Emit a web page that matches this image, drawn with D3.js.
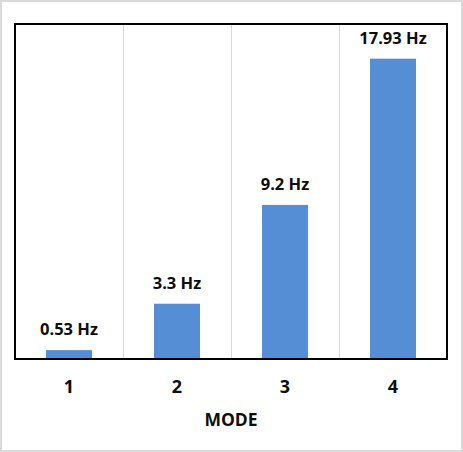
<!DOCTYPE html>
<html><head><meta charset="utf-8">
<script src="https://cdn.jsdelivr.net/npm/d3@7"></script>
<style>html,body{margin:0;padding:0;background:#fff;overflow:hidden}</style>
</head><body>
<script>
const categories = ["1","2","3","4"];
const values = [0.53, 3.3, 9.2, 17.93];
const labels = ["0.53 Hz","3.3 Hz","9.2 Hz","17.93 Hz"];
const axisTitle = "MODE";

const W = 463, H = 452;
const svg = d3.select("body").append("svg").attr("width", W).attr("height", H);
svg.append("rect").attr("x",1).attr("y",1).attr("width",W-2).attr("height",H-2)
  .attr("fill","#fff").attr("stroke","#d9d9d9").attr("stroke-width",2);

const L = 15, R = 447, T = 24, B = 359;
const x = d3.scaleBand().domain(categories).range([L, R]).paddingInner(0.574).paddingOuter(0.287);
const xb = d3.scaleBand().domain(categories).range([L, R]);
const y = d3.scaleLinear().domain([0, 20]).range([B, T]);

// gridlines at category boundaries
svg.selectAll("line.grid").data(categories.slice(1)).enter().append("line")
  .attr("class","grid")
  .attr("x1", d => Math.round(xb(d)) + 0.5).attr("x2", d => Math.round(xb(d)) + 0.5)
  .attr("y1", T).attr("y2", B).attr("stroke","#d9d9d9").attr("stroke-width",1);

svg.selectAll("rect.bar").data(values).enter().append("rect")
  .attr("class","bar")
  .attr("x", (d,i) => x(categories[i])).attr("width", x.bandwidth())
  .attr("y", d => y(d)).attr("height", d => B - y(d))
  .attr("fill", "#558ed5");

svg.append("rect").attr("x", L).attr("y", T).attr("width", R-L).attr("height", B-T)
  .attr("fill","none").attr("stroke","#000").attr("stroke-width",2);

svg.selectAll("text.lbl").data(values).enter().append("text")
  .attr("class","lbl")
  .attr("x", (d,i) => x(categories[i]) + x.bandwidth()/2)
  .attr("y", d => y(d) - 15)
  .attr("text-anchor","middle")
  .attr("font-family","'Open Sans', sans-serif").attr("font-weight","bold")
  .attr("font-size", 16.5).attr("fill","#0d0d0d")
  .text((d,i) => labels[i]);

const ax = svg.append("g").attr("transform", `translate(0,${B})`)
  .call(d3.axisBottom(x).tickSize(0).tickPadding(0));
ax.select(".domain").remove();
ax.selectAll("text").attr("y", 34).attr("dy", 0)
  .attr("font-family","'Open Sans', sans-serif").attr("font-weight","bold")
  .attr("font-size", 18).attr("fill","#0d0d0d");

svg.append("text").attr("x", (L+R)/2).attr("y", 426)
  .attr("text-anchor","middle")
  .attr("font-family","'Open Sans', sans-serif").attr("font-weight","bold")
  .attr("font-size", 17.5).attr("fill","#0d0d0d").text(axisTitle);
</script>
</body></html>
